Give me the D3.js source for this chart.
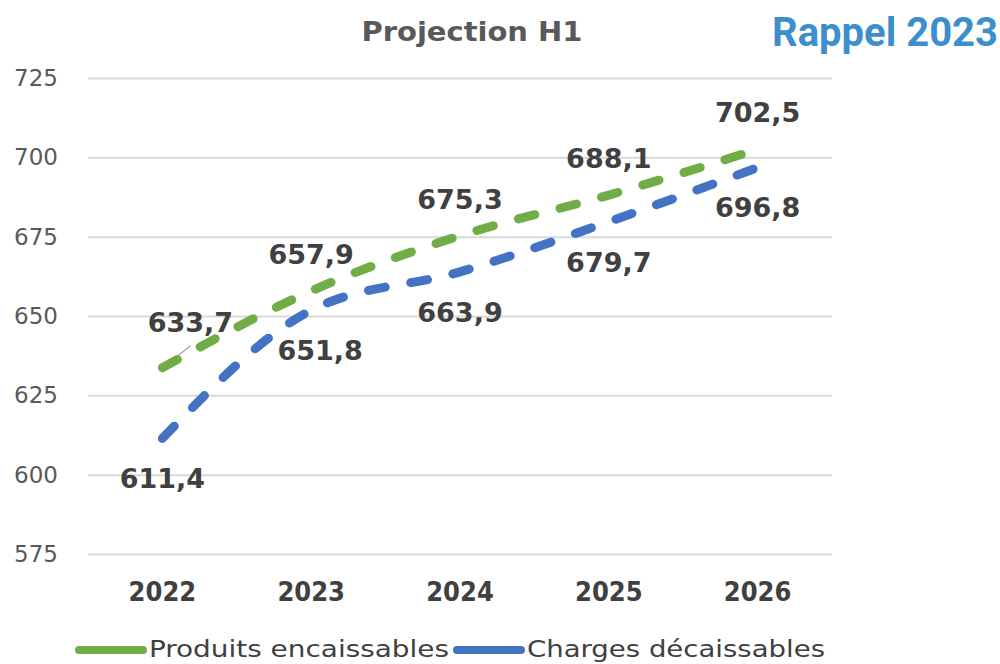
<!DOCTYPE html>
<meta charset="utf-8">
<style>
  body { margin: 0; background: #fff; }
  .grid line { stroke: #d9d9d9; stroke-width: 2; }
  .grid path { display: none; }
  .yaxis text { font-family: "DejaVu Sans", sans-serif; font-size: 23px; fill: #595959; }
  .xaxis text { font-family: "DejaVu Sans Condensed", "DejaVu Sans", sans-serif; font-weight: bold; font-size: 27px; fill: #404040; }
  .lbl { font-family: "DejaVu Sans", sans-serif; font-weight: bold; font-size: 27px; fill: #404040; }
  .leg { font-family: "DejaVu Sans Condensed", "DejaVu Sans", sans-serif; font-size: 23px; fill: #404040; }
</style>
<body>
<svg width="1000" height="664"></svg>
<script src="https://d3js.org/d3.v7.min.js"></script>
<script>
  // data
  var years = ["2022", "2023", "2024", "2025", "2026"];
  var produits = [633.7, 657.9, 675.3, 688.1, 702.5];
  var charges = [611.4, 651.8, 663.9, 679.7, 696.8];
  var yTicks = [575, 600, 625, 650, 675, 700, 725];
  var seriesNames = ["Produits encaissables", "Charges décaissables"];
  var seriesColors = ["#70ad47", "#4472c4"];

  var svg = d3.select("svg");
  var pLeft = 88, pRight = 832, pTop = 78, pBottom = 554;

  var x = d3.scaleBand().domain(years).range([pLeft, pRight]);
  var y = d3.scaleLinear().domain([575, 725]).range([pBottom, pTop]);
  var cx = function(d) { return x(d) + x.bandwidth() / 2; };

  // title
  svg.append("text").attr("x", 472).attr("y", 41).attr("text-anchor", "middle")
    .attr("textLength", 221).attr("lengthAdjust", "spacingAndGlyphs")
    .style("font-family", "'DejaVu Sans Condensed', 'DejaVu Sans', sans-serif")
    .style("font-weight", "bold").style("font-size", "26px").style("fill", "#595959")
    .text("Projection H1");
  svg.append("text").attr("x", 998).attr("y", 46).attr("text-anchor", "end")
    .style("font-family", "Roboto, sans-serif")
    .style("font-weight", "bold").style("font-size", "40px").style("fill", "#3d8fcc")
    .text("Rappel 2023");

  // gridlines + y labels
  svg.append("g").attr("class", "grid")
    .attr("transform", "translate(" + pLeft + ",0)")
    .call(d3.axisLeft(y).tickValues(yTicks).tickSize(-(pRight - pLeft)).tickFormat(""));
  svg.append("g").attr("class", "yaxis")
    .attr("transform", "translate(" + pLeft + ",0)")
    .call(d3.axisLeft(y).tickValues(yTicks).tickSize(0).tickPadding(30))
    .call(function(g) { g.select(".domain").remove(); });

  // x labels
  svg.append("g").attr("class", "xaxis")
    .attr("transform", "translate(0," + (pBottom + 18) + ")")
    .call(d3.axisBottom(x).tickSize(0).tickPadding(10))
    .call(function(g) { g.select(".domain").remove(); });

  var line = d3.line()
    .x(function(d, i) { return cx(years[i]); })
    .y(function(d) { return y(d); })
    .curve(d3.curveMonotoneX);

  // leader line for first label
  svg.append("line").attr("x1", cx(years[0]) + 3).attr("y1", y(produits[0]) - 2)
    .attr("x2", cx(years[0]) + 28).attr("y2", y(produits[0]) - 22)
    .attr("stroke", "#a6a6a6").attr("stroke-width", 1.5);

  [produits, charges].forEach(function(s, k) {
    svg.append("path").datum(s).attr("d", line)
      .attr("fill", "none").attr("stroke", seriesColors[k])
      .attr("stroke-width", 9).attr("stroke-linecap", "round")
      .attr("stroke-dasharray", "17 26");
  });

  // value labels
  var fmt = function(v) { return v.toFixed(1).replace(".", ","); };
  svg.append("g").selectAll("text").data(produits).enter().append("text")
    .attr("class", "lbl").attr("text-anchor", "middle")
    .attr("x", function(d, i) { return cx(years[i]) + (i === 0 ? 28 : 0); })
    .attr("y", function(d, i) { return y(d) - (i === 0 ? 36 : 27); })
    .text(fmt);
  svg.append("g").selectAll("text").data(charges).enter().append("text")
    .attr("class", "lbl").attr("text-anchor", "middle")
    .attr("x", function(d, i) { return cx(years[i]) + (i === 1 ? 9 : 0); })
    .attr("y", function(d, i) { return y(d) + 50; })
    .text(fmt);

  // legend
  var legX = [75, 453];
  var legW = [300, 298];
  seriesNames.forEach(function(n, k) {
    svg.append("line").attr("x1", legX[k] + 4).attr("x2", legX[k] + 68)
      .attr("y1", 650).attr("y2", 650)
      .attr("stroke", seriesColors[k]).attr("stroke-width", 8).attr("stroke-linecap", "round");
    svg.append("text").attr("class", "leg").attr("x", legX[k] + 74).attr("y", 657)
      .attr("textLength", legW[k]).attr("lengthAdjust", "spacingAndGlyphs").text(n);
  });
</script>
</body>
